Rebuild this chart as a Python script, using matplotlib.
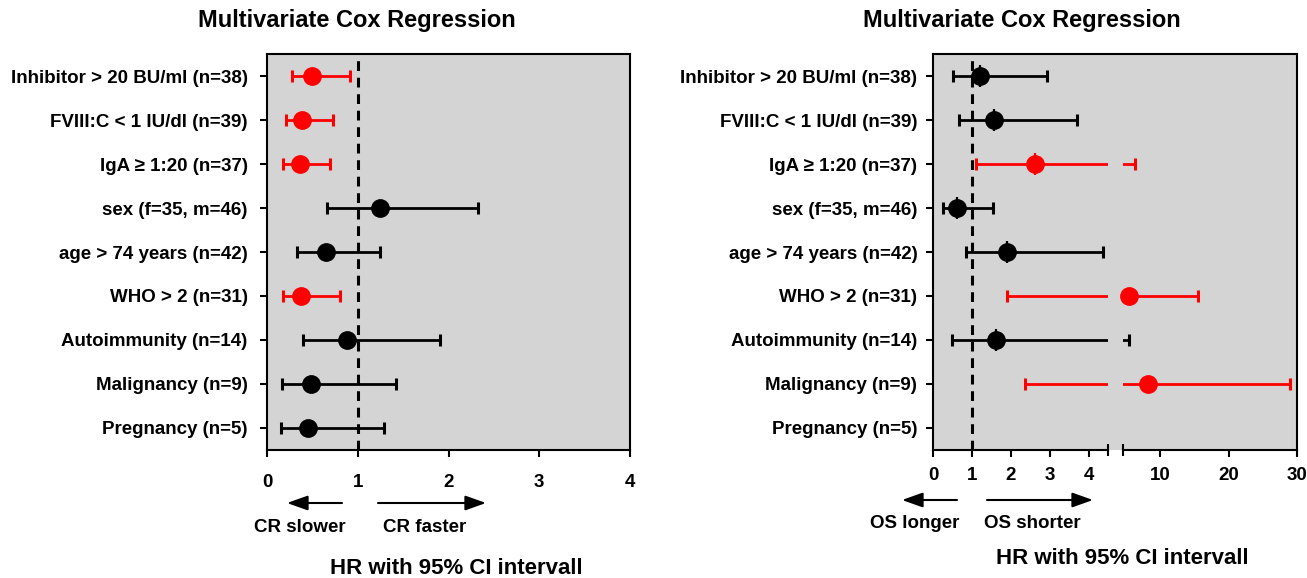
#!/usr/bin/env python3
"""Forest plots of multivariate Cox regression (CR and OS)."""

import matplotlib
matplotlib.use("Agg")
import matplotlib.pyplot as plt
from matplotlib.patches import FancyArrowPatch
import numpy as np

plt.rcParams["font.family"] = ["Liberation Sans", "DejaVu Sans"]
plt.rcParams["font.weight"] = "bold"

# ---------------------------------------------------------------------------
# Data
# ---------------------------------------------------------------------------
labels = [
    "Inhibitor > 20 BU/ml (n=38)",
    "FVIII:C < 1 IU/dl (n=39)",
    "IgA \u2265 1:20 (n=37)",
    "sex (f=35, m=46)",
    "age > 74 years (n=42)",
    "WHO > 2 (n=31)",
    "Autoimmunity (n=14)",
    "Malignancy (n=9)",
    "Pregnancy (n=5)",
]

# CR (left panel)
cr_hr = [0.50, 0.39, 0.36, 1.24, 0.65, 0.38, 0.88, 0.49, 0.45]
cr_lo = [0.28, 0.21, 0.18, 0.66, 0.33, 0.18, 0.40, 0.17, 0.15]
cr_hi = [0.92, 0.73, 0.69, 2.33, 1.25, 0.80, 1.91, 1.42, 1.29]
cr_sig = [True, True, True, False, False, True, False, False, False]

# OS (right panel), pregnancy has no estimate
os_hr = [1.20, 1.57, 2.63, 0.60, 1.89, 5.38, 1.61, 8.18, np.nan]
os_lo = [0.50, 0.67, 1.10, 0.24, 0.83, 1.91, 0.48, 2.35, np.nan]
os_hi = [2.93, 3.70, 6.22, 1.53, 4.36, 15.5, 5.38, 29.0, np.nan]
os_sig = [False, False, True, False, False, True, False, True, False]
os_tick_mark = [True, True, True, True, True, False, True, False, False]

cr_ticks = [0, 1, 2, 3, 4]
os_ticks = [0, 1, 2, 3, 4, 10, 20, 30]

# ---------------------------------------------------------------------------
# Styling
# ---------------------------------------------------------------------------
W, H = 1307, 578
BG = "#d4d4d4"
RED = "#ff0000"
LBL_FS = 13.5
TITLE = "Multivariate Cox Regression"

# broken axis for the OS panel: 0-4.5 linear, gap, 4.5-30 compressed
B1, B2 = 4.5, 4.51
GAP = 15 / 38.75
RATIO = 6.8 / 38.75


def fwd(x):
    x = np.asarray(x, dtype=float)
    return np.where(
        x <= B1, x,
        np.where(x <= B2, B1 + (x - B1) / (B2 - B1) * GAP, B1 + GAP + (x - B2) * RATIO),
    )


def inv(u):
    u = np.asarray(u, dtype=float)
    return np.where(
        u <= B1, u,
        np.where(u <= B1 + GAP, B1 + (u - B1) / GAP * (B2 - B1), B2 + (u - B1 - GAP) / RATIO),
    )


def px_rect(x0, y0, x1, y1):
    return [x0 / W, 1 - y1 / H, (x1 - x0) / W, (y1 - y0) / H]


def fx(x):
    return x / W


def fy(y):
    return 1 - y / H


def forest(ax, hr, lo, hi, sig, label_pad, marks=None):
    y = np.arange(1, len(hr) + 1)
    hr = np.asarray(hr)
    lo = np.asarray(lo)
    hi = np.asarray(hi)
    for i in range(len(hr)):
        if np.isnan(hr[i]):
            continue
        c = RED if sig[i] else "black"
        ax.errorbar(
            [hr[i]], [y[i]],
            xerr=[[hr[i] - lo[i]], [hi[i] - hr[i]]],
            fmt="none", ecolor=c, elinewidth=2.0, capsize=4, capthick=2.2, zorder=2,
        )
        ax.plot([hr[i]], [y[i]], "o", color=c, markersize=12.5, zorder=6)
        if marks is not None and marks[i]:
            ax.plot([hr[i]], [y[i]], "|", color=c, markersize=16, markeredgewidth=1.6, zorder=6)
    ax.axvline(1, color="black", linestyle=(0, (3.2, 2.2)), linewidth=2.2, zorder=1)
    ax.set_facecolor(BG)
    ax.set_ylim(len(hr) + 0.5, 0.5)
    ax.set_yticks(y)
    ax.set_yticklabels(labels, fontsize=LBL_FS, fontweight="bold")
    ax.tick_params(axis="y", length=5, width=1.5, pad=label_pad)
    ax.tick_params(axis="x", length=5, width=1.5, labelsize=LBL_FS)
    for s in ax.spines.values():
        s.set_linewidth(1.5)
        s.set_zorder(7)


fig = plt.figure(figsize=(W / 100, H / 100), dpi=100)

# ---------------------------------------------------------------------------
# Left panel: CR
# ---------------------------------------------------------------------------
ax1 = fig.add_axes(px_rect(267, 54, 630, 450))
forest(ax1, cr_hr, cr_lo, cr_hi, cr_sig, label_pad=9)
ax1.set_xlim(0, 4)
ax1.set_xticks(cr_ticks)
ax1.set_xticklabels([str(t) for t in cr_ticks], fontweight="bold")
ax1.tick_params(axis="x", pad=12)
fig.text(fx(357), fy(21), TITLE, ha="center", va="center", fontsize=17, fontweight="bold")

# ---------------------------------------------------------------------------
# Right panel: OS (broken x-axis)
# ---------------------------------------------------------------------------
ax2 = fig.add_axes(px_rect(933.3, 54, 1296.7, 450))
ax2.set_xscale("function", functions=(fwd, inv))
forest(ax2, os_hr, os_lo, os_hi, os_sig, label_pad=6.5, marks=os_tick_mark)
ax2.set_xlim(0, 30)
ax2.set_xticks(os_ticks)
ax2.set_xticklabels([str(t) for t in os_ticks], fontweight="bold")
ax2.tick_params(axis="x", pad=7)
ax2.set_xticks([B1, B2], minor=True)
ax2.tick_params(axis="x", which="minor", length=8, width=1.5, direction="inout")
ax2.xaxis.set_zorder(8)
ax2.axvspan(B1, B2, color=BG, zorder=3, linewidth=0)
ax2.spines["bottom"].set_visible(False)
xt = ax2.get_xaxis_transform()
for seg in ([0, B1], [B2, 30]):
    ax2.plot(seg, [0, 0], color="black", linewidth=1.5, transform=xt, clip_on=False, zorder=8)
fig.text(fx(1022), fy(21), TITLE, ha="center", va="center", fontsize=17, fontweight="bold")

# ---------------------------------------------------------------------------
# Direction arrows and axis titles
# ---------------------------------------------------------------------------
arrow = dict(arrowstyle="-|>,head_length=0.9,head_width=0.32", color="black", lw=1.5,
             shrinkA=0, shrinkB=0)


def direction(x_from, x_to, y, text, x_text, y_text):
    fig.add_artist(FancyArrowPatch(
        (fx(x_from), fy(y)), (fx(x_to), fy(y)), transform=fig.transFigure,
        mutation_scale=14, **arrow))
    fig.text(fx(x_text), fy(y_text), text, ha="center", va="center",
             fontsize=LBL_FS, fontweight="bold")


direction(342, 287, 503, "CR slower", 300, 527)
direction(378, 486, 503, "CR faster", 425, 527)
direction(957, 902, 500, "OS longer", 915, 523)
direction(987, 1093, 500, "OS shorter", 1032, 523)

fig.text(fx(456), fy(568), "HR with 95% CI intervall", ha="center", va="center",
         fontsize=16, fontweight="bold")
fig.text(fx(1122), fy(558), "HR with 95% CI intervall", ha="center", va="center",
         fontsize=16, fontweight="bold")

fig.savefig("out.png", dpi=100)
